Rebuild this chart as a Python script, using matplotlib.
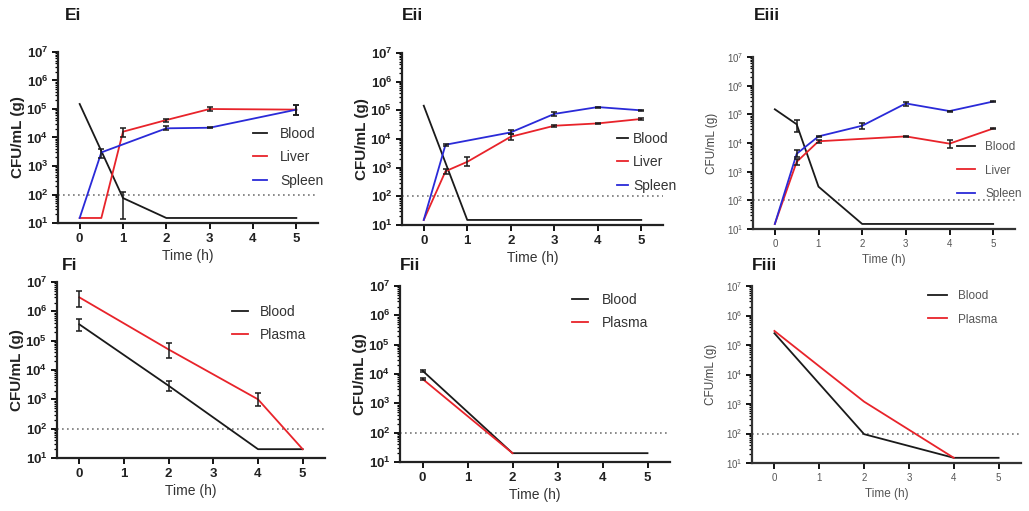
import numpy as np
import matplotlib.pyplot as plt
from matplotlib.ticker import LogLocator, NullFormatter

plt.rcParams['font.family'] = ['Liberation Sans', 'DejaVu Sans']
plt.rcParams['mathtext.fontset'] = 'custom'
plt.rcParams['mathtext.rm'] = 'Liberation Sans'
plt.rcParams['mathtext.bf'] = 'Liberation Sans:bold'

# ---- data (CFU/mL or CFU/g) ----
# Ei
ei_blood_t = [0, 1, 2, 3, 4, 5]
ei_blood = [1.5e5, 75, 15, 15, 15, 15]
ei_blood_lo = [1.5e5, 14, 15, 15, 15, 15]
ei_blood_hi = [1.5e5, 120, 15, 15, 15, 15]
ei_liver_t = [0, 0.5, 1, 2, 3, 5]
ei_liver = [15, 15, 1.6e4, 4.1e4, 1.0e5, 9.5e4]
ei_liver_lo = [15, 15, 1.0e4, 3.6e4, 8.5e4, 6.2e4]
ei_liver_hi = [15, 15, 2.2e4, 4.6e4, 1.2e5, 1.35e5]
ei_spleen_t = [0, 0.5, 2, 3, 5]
ei_spleen = [15, 3.0e3, 2.1e4, 2.2e4, 9.5e4]
ei_spleen_lo = [15, 1.9e3, 1.8e4, 2.1e4, 6.2e4]
ei_spleen_hi = [15, 3.8e3, 2.5e4, 2.3e4, 1.35e5]

# Eii
eii_blood_t = [0, 1, 2, 3, 4, 5]
eii_blood = [1.45e5, 15, 15, 15, 15, 15]
eii_liver_t = [0, 0.5, 1, 2, 3, 4, 5]
eii_liver = [15, 750, 1.6e3, 1.2e4, 2.9e4, 3.5e4, 5.0e4]
eii_liver_lo = [15, 600, 1.1e3, 9.5e3, 2.6e4, 3.3e4, 4.6e4]
eii_liver_hi = [15, 900, 2.3e3, 1.5e4, 3.2e4, 3.7e4, 5.4e4]
eii_spleen_t = [0, 0.5, 2, 3, 4, 5]
eii_spleen = [15, 6.3e3, 1.7e4, 7.5e4, 1.3e5, 1.0e5]
eii_spleen_lo = [15, 5.8e3, 1.5e4, 6.5e4, 1.25e5, 9.5e4]
eii_spleen_hi = [15, 6.8e3, 2.0e4, 8.5e4, 1.35e5, 1.05e5]

# Eiii
eiii_blood_t = [0, 0.5, 1, 2, 3, 4, 5]
eiii_blood = [1.5e5, 4.5e4, 300, 15, 15, 15, 15]
eiii_blood_lo = [1.5e5, 2.5e4, 300, 15, 15, 15, 15]
eiii_blood_hi = [1.5e5, 6.5e4, 300, 15, 15, 15, 15]
eiii_liver_t = [0, 0.5, 1, 3, 4, 5]
eiii_liver = [15, 2.2e3, 1.15e4, 1.7e4, 9.5e3, 3.2e4]
eiii_liver_lo = [15, 1.7e3, 1.0e4, 1.6e4, 6.5e3, 3.1e4]
eiii_liver_hi = [15, 2.8e3, 1.3e4, 1.8e4, 1.3e4, 3.3e4]
eiii_spleen_t = [0, 0.5, 1, 2, 3, 4, 5]
eiii_spleen = [15, 4.2e3, 1.7e4, 4.0e4, 2.4e5, 1.3e5, 2.8e5]
eiii_spleen_lo = [15, 3.2e3, 1.6e4, 3.0e4, 2.0e5, 1.25e5, 2.6e5]
eiii_spleen_hi = [15, 5.5e3, 1.8e4, 5.0e4, 2.8e5, 1.35e5, 3.0e5]

# Fi
fi_blood_t = [0, 2, 4, 5]
fi_blood = [3.6e5, 2.9e3, 20, 20]
fi_blood_lo = [2.2e5, 1.9e3, 20, 20]
fi_blood_hi = [5.5e5, 4.3e3, 20, 20]
fi_plasma_t = [0, 2, 4, 5]
fi_plasma = [3.0e6, 5.0e4, 1.0e3, 20]
fi_plasma_lo = [1.4e6, 2.5e4, 6.0e2, 20]
fi_plasma_hi = [4.8e6, 8.5e4, 1.6e3, 20]

# Fii
fii_blood_t = [0, 2, 3, 4, 5]
fii_blood = [1.3e4, 20, 20, 20, 20]
fii_blood_lo = [1.2e4, 20, 20, 20, 20]
fii_blood_hi = [1.4e4, 20, 20, 20, 20]
fii_plasma_t = [0, 2]
fii_plasma = [6.8e3, 20]
fii_plasma_lo = [6.2e3, 20]
fii_plasma_hi = [7.5e3, 20]

# Fiii
fiii_blood_t = [0, 2, 4, 5]
fiii_blood = [2.5e5, 95, 15, 15]
fiii_plasma_t = [0, 2, 4]
fiii_plasma = [3.0e5, 1.2e3, 15]

detection_limit = 100

BLACK = '#1a1a1a'
RED = '#e8232a'
BLUE = '#2a2ad8'

W, H = 1029, 511
fig = plt.figure(figsize=(W / 100, H / 100), dpi=100)


def px_axes(l, t, r, b):
    return fig.add_axes([l / W, 1 - b / H, (r - l) / W, (b - t) / H])


def draw(ax, t, y, color, label, lo=None, hi=None):
    ax.plot(t, y, color=color, lw=1.3, label=label, zorder=3)
    if lo is not None:
        t = np.array(t, dtype=float)
        y = np.array(y, dtype=float)
        lo = np.array(lo, dtype=float)
        hi = np.array(hi, dtype=float)
        # only points that actually carry an error bar
        m = (hi - lo) > 0
        yerr = [y[m] - lo[m], hi[m] - y[m]]
        ax.errorbar(t[m], y[m], yerr=yerr, fmt='none', ecolor=BLACK, elinewidth=1.1,
                    capsize=2.5, capthick=1.1, zorder=4)


def style(ax, light=False):
    ax.set_yscale('log')
    ax.set_ylim(10, 1e7)
    ax.set_xlim(-0.5, 5.5)
    ax.set_xticks(range(6))
    ax.yaxis.set_major_locator(LogLocator(base=10, numticks=10))
    ax.yaxis.set_minor_locator(LogLocator(base=10, subs=np.arange(2, 10), numticks=10))
    ax.yaxis.set_minor_formatter(NullFormatter())
    for s in ['top', 'right']:
        ax.spines[s].set_visible(False)
    for s in ['left', 'bottom']:
        ax.spines[s].set_linewidth(1.6)
        ax.spines[s].set_color('#222222' if not light else '#333333')
    ax.axhline(detection_limit, color='#777777', ls=(0, (1, 2)), lw=1.2, zorder=1)
    if light:
        ax.tick_params(axis='both', which='major', length=4, width=1.3, labelsize=7,
                       labelcolor='#555555', pad=3)
        ax.set_ylabel('CFU/mL (g)', fontsize=8.5, color='#444444', labelpad=6)
        ax.set_xlabel('Time (h)', fontsize=8.5, color='#555555', labelpad=4)
    else:
        ax.tick_params(axis='both', which='major', length=4, width=1.3, labelsize=9.5,
                       labelcolor='#222222', pad=3)
        for lab in ax.get_xticklabels() + ax.get_yticklabels():
            lab.set_fontweight('bold')
        ax.set_ylabel('CFU/mL (g)', fontsize=11, fontweight='bold', color='#222222', labelpad=1)
        ax.set_xlabel('Time (h)', fontsize=10, color='#333333', labelpad=3)
    ax.tick_params(axis='y', which='minor', length=2.2, width=0.9)


def legend(ax, x, yc, hlen, gap, pitch=23.5, light=False):
    fs = 8.5 if light else 10
    fpx = fs * 100 / 72
    leg = ax.legend(loc='upper left', bbox_to_anchor=(x / W, 1 - (yc - fpx * 0.6) / H),
                    bbox_transform=fig.transFigure, frameon=False, fontsize=fs,
                    handlelength=hlen / fpx, handletextpad=gap / fpx,
                    labelspacing=(pitch - fpx * 1.0) / fpx, borderpad=0, borderaxespad=0)
    for txt in leg.get_texts():
        txt.set_color('#555555' if light else '#333333')
    return leg


# Ei
ax = px_axes(58, 52, 318, 223)
draw(ax, ei_blood_t, ei_blood, BLACK, 'Blood', ei_blood_lo, ei_blood_hi)
draw(ax, ei_liver_t, ei_liver, RED, 'Liver', ei_liver_lo, ei_liver_hi)
draw(ax, ei_spleen_t, ei_spleen, BLUE, 'Spleen', ei_spleen_lo, ei_spleen_hi)
style(ax)
legend(ax, 253, 135, 14, 13)

# Eii
ax = px_axes(402, 53, 663, 225)
draw(ax, eii_blood_t, eii_blood, BLACK, 'Blood')
draw(ax, eii_liver_t, eii_liver, RED, 'Liver', eii_liver_lo, eii_liver_hi)
draw(ax, eii_spleen_t, eii_spleen, BLUE, 'Spleen', eii_spleen_lo, eii_spleen_hi)
style(ax)
legend(ax, 617, 140, 11, 5)

# Eiii
ax = px_axes(753, 57, 1015, 229)
draw(ax, eiii_blood_t, eiii_blood, BLACK, 'Blood', eiii_blood_lo, eiii_blood_hi)
draw(ax, eiii_liver_t, eiii_liver, RED, 'Liver', eiii_liver_lo, eiii_liver_hi)
draw(ax, eiii_spleen_t, eiii_spleen, BLUE, 'Spleen', eiii_spleen_lo, eiii_spleen_hi)
style(ax, light=True)
legend(ax, 957, 148, 18, 10, light=True)

# Fi
ax = px_axes(57, 282, 325, 458)
draw(ax, fi_blood_t, fi_blood, BLACK, 'Blood', fi_blood_lo, fi_blood_hi)
draw(ax, fi_plasma_t, fi_plasma, RED, 'Plasma', fi_plasma_lo, fi_plasma_hi)
style(ax)
legend(ax, 232, 313, 16, 12)

# Fii
ax = px_axes(400, 286, 670, 462)
draw(ax, fii_blood_t, fii_blood, BLACK, 'Blood', fii_blood_lo, fii_blood_hi)
draw(ax, fii_plasma_t, fii_plasma, RED, 'Plasma', fii_plasma_lo, fii_plasma_hi)
style(ax)
legend(ax, 572, 301, 16, 14)

# Fiii
ax = px_axes(752, 286, 1021, 463)
draw(ax, fiii_blood_t, fiii_blood, BLACK, 'Blood')
draw(ax, fiii_plasma_t, fiii_plasma, RED, 'Plasma')
style(ax, light=True)
legend(ax, 928, 297, 19, 11, light=True)

# panel letters
for lbl, x, y in [('Ei', 65, 16), ('Eii', 402, 16), ('Eiii', 754, 16),
                  ('Fi', 62, 266), ('Fii', 400, 266), ('Fiii', 752, 266)]:
    fig.text(x / W, 1 - y / H, lbl, fontsize=12.5, fontweight='bold', color='#1a1a1a',
             va='center', ha='left')

fig.savefig('out.png', dpi=100)
